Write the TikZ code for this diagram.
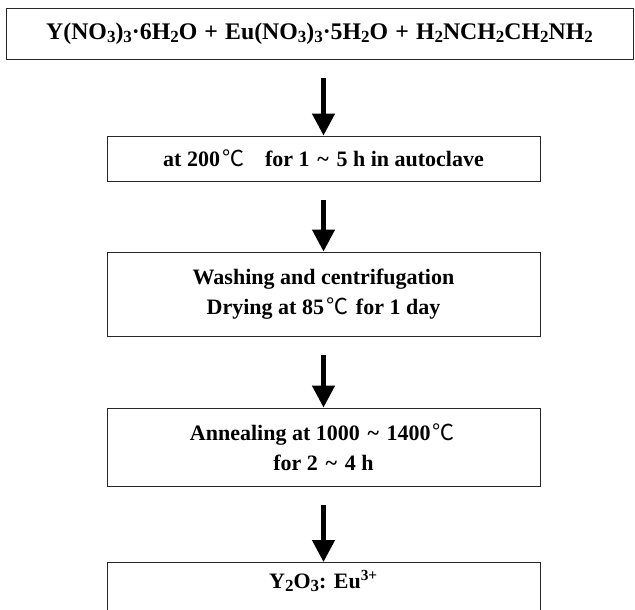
\documentclass[tikz,border=0pt]{standalone}
\usepackage{fontspec}
\setmainfont{Liberation Serif}
\newfontfamily\cjkfont{Noto Sans CJK KR}
\newcommand{\degC}{\makebox[1.2em][c]{\cjkfont\mdseries\fontsize{22}{22}\selectfont ℃}}
\newcommand{\sbs}[1]{\raisebox{-0.3ex}{\fontsize{17}{17}\selectfont #1}}
\newcommand{\tld}{\hspace{0.35em}\char`~\hspace{0.35em}}
\newcommand{\pls}{\hspace{0.3em}+\hspace{0.3em}}
\usetikzlibrary{arrows.meta}
\begin{document}
\begin{tikzpicture}[x=1pt,y=-1pt,
  box/.style={draw=black!85,line width=0.9pt,align=center,font=\fontsize{22}{30}\selectfont\bfseries,inner sep=0pt},
  flow/.style={line width=4.5pt,-{Triangle[width=22pt,length=22pt]},shorten <=19pt}]
\useasboundingbox (0,0) rectangle (635,610);
\node[box,minimum width=627pt,minimum height=51pt,font=\fontsize{23.8}{30}\selectfont\bfseries] (b1) at (319.5,33.5)
  {Y(NO\sbs{3})\sbs{3}·6H\sbs{2}O\pls Eu(NO\sbs{3})\sbs{3}·5H\sbs{2}O\pls H\sbs{2}NCH\sbs{2}CH\sbs{2}NH\sbs{2}};
\node[box,minimum width=433pt,minimum height=45pt] (b2) at (323.5,158.5)
  {at 200\degC\hspace{0.6em} for 1\tld 5 h in autoclave};
\node[box,minimum width=433pt,minimum height=84pt] (b3) at (323.5,294)
  {Washing and centrifugation\\Drying at 85\degC\ for 1 day};
\node[box,minimum width=433pt,minimum height=78pt] (b4) at (323.5,447)
  {Annealing at 1000\tld 1400\degC\\for 2\tld 4 h};
\node[box,anchor=north,minimum width=433pt,inner ysep=6pt,text height=20pt,text depth=40pt] (b5) at (323.5,562)
  {Y\sbs{2}O\sbs{3}: Eu\textsuperscript{3+}};
\draw[flow] (b2.north |- b1.south) -- (b2.north);
\draw[flow] (b2.south) -- (b3.north);
\draw[flow] (b3.south) -- (b4.north);
\draw[flow] (b4.south) -- (b5.north);
\end{tikzpicture}
\end{document}
